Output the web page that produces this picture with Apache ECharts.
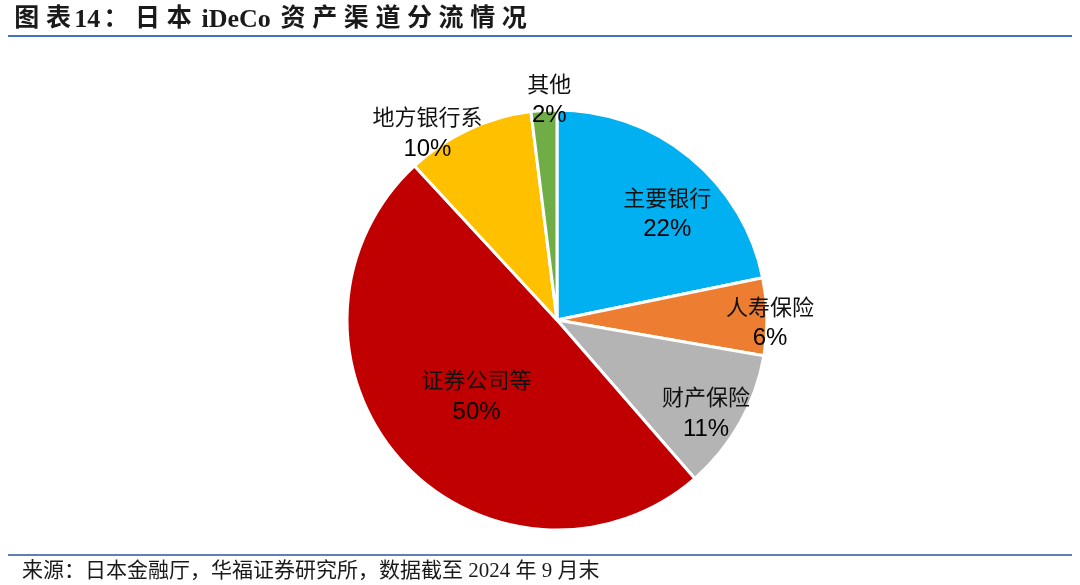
<!DOCTYPE html>
<html>
<head>
<meta charset="utf-8">
<script src="https://cdn.jsdelivr.net/npm/echarts@6/dist/echarts.min.js"></script>
<style>
  html, body { margin: 0; padding: 0; background: #fff; }
  #chart { width: 1080px; height: 585px; }
</style>
</head>
<body>
<div id="chart"></div>
<script>
const categories = ['主要银行', '人寿保险', '财产保险', '证券公司等', '地方银行系', '其他'];
const shares = [22, 6, 11, 50, 10, 2];
const sliceColors = ['#00B0F0', '#ED7D31', '#B4B4B4', '#C00000', '#FFC000', '#70AD47'];
const labelOffsets = [[42, -23], [105, 4], [55, 40], [0, 4], [-84, -89], [-1, -113]];

const titleText = '图表14：日本 iDeCo 资产渠道分流情况';
const sourceText = '来源：日本金融厅，华福证券研究所，数据截至 2024 年 9 月末';

// Build rich-text title: CJK characters get a little side padding (letter spacing look)
function spacedTitle(str) {
  let out = '';
  let latin = '';
  const flush = () => { if (latin) { out += '{l|' + latin + '}'; latin = ''; } };
  for (const ch of str) {
    if (/[\u3000-\u9fff\uff00-\uffef]/.test(ch)) { flush(); out += '{c|' + ch + '}'; }
    else { latin += ch; }
  }
  flush();
  return out;
}

const chart = echarts.init(document.getElementById('chart'));
const titleFont = '"Liberation Serif", "Noto Sans CJK SC", serif';
const option = {
  backgroundColor: '#ffffff',
  animation: false,
  title: {
    text: spacedTitle(titleText),
    left: 6,
    top: 2,
    textStyle: {
      rich: {
        c: { fontFamily: titleFont, fontWeight: 'bold', fontSize: 25, color: '#1a1a1a', padding: [0, 3.3, 0, 3.3] },
        l: { fontFamily: titleFont, fontWeight: 'bold', fontSize: 26, color: '#1a1a1a' }
      }
    }
  },
  graphic: [
    { type: 'line', shape: { x1: 8, y1: 36, x2: 1072, y2: 36 }, style: { stroke: '#4472C4', lineWidth: 2 } },
    { type: 'line', shape: { x1: 8, y1: 555, x2: 1072, y2: 555 }, style: { stroke: '#2F5597', lineWidth: 1.5 } },
    {
      type: 'text', left: 22, top: 561,
      style: {
        text: sourceText,
        fontFamily: '"Liberation Serif", "Noto Sans CJK SC", serif',
        fontSize: 21,
        fill: '#1a1a1a'
      }
    }
  ],
  series: [{
    type: 'pie',
    center: [557, 320],
    radius: [0, 210],
    startAngle: 90,
    clockwise: true,
    avoidLabelOverlap: false,
    itemStyle: { borderColor: '#ffffff', borderWidth: 3 },
    label: {
      show: true,
      position: 'inside',
      formatter: '{n|{b}}\n{v|{c}%}',
      rich: {
        n: { fontFamily: '"Noto Sans CJK SC", sans-serif', fontSize: 22, color: '#111', lineHeight: 32, align: 'center' },
        v: { fontFamily: '"Liberation Sans", Arial, sans-serif', fontSize: 24, color: '#000', lineHeight: 32, align: 'center' }
      }
    },
    labelLine: { show: false },
    data: categories.map((name, i) => ({
      name: name,
      value: shares[i],
      itemStyle: { color: sliceColors[i] },
      label: { offset: labelOffsets[i] }
    }))
  }]
};
chart.setOption(option);
</script>
</body>
</html>
